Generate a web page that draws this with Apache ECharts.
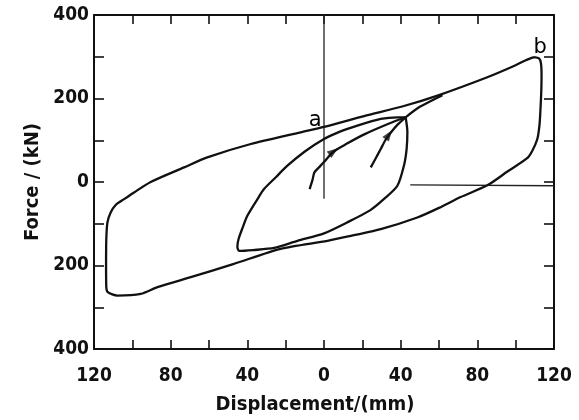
<!DOCTYPE html>
<html>
<head>
<meta charset="utf-8">
<script src="https://cdn.jsdelivr.net/npm/echarts@6/dist/echarts.min.js"></script>
<style>
html,body{margin:0;padding:0;background:#fff;}
#chart{width:579px;height:420px;}
</style>
</head>
<body>
<div id="chart"></div>
<script>
// ---- data ----
const xTicks = [-120, -80, -40, 0, 40, 80, 120];
const xTickLabels = ['120', '80', '40', '0', '40', '80', '120'];
const yTicks = [-400, -200, 0, 200, 400];
const yTickLabels = ['400', '200', '0', '200', '400'];

// large hysteresis loop (a -> b -> back)
const outerLoop = [
  [109.6, 299], [112.2, 296], [113.2, 284], [113.5, 255], [113.4, 222], [112.9, 170],
  [112.4, 135], [111.3, 103], [108.7, 75], [106, 57], [95.7, 25], [85.2, -8],
  [71.3, -36], [60, -62], [48.7, -85], [29.6, -113], [15, -128], [1.8, -141],
  [-22.6, -160], [-47, -196], [-69.5, -228], [-86.9, -252], [-95.6, -268], [-107.8, -272],
  [-112.8, -264], [-113.6, -250], [-113.7, -200], [-113.6, -140], [-113, -97],
  [-111.3, -73], [-108.7, -55], [-104.3, -41], [-99.1, -25], [-90.4, 0], [-73, 35],
  [-60.9, 59], [-38.2, 91], [-12.2, 119], [0, 132], [20.9, 158], [41.7, 182],
  [59.2, 207], [85.2, 251], [99.1, 278], [105, 291], [109.6, 299]
];

// small loop (lens shaped)
const innerLoop = [
  [42.6, 155], [43.5, 120], [43.1, 79], [41.7, 39], [38.3, -9], [31.5, -40],
  [24, -68], [12, -97], [0, -123], [-13.9, -141], [-26, -158], [-37, -163],
  [-44.3, -165], [-45.2, -155], [-44.6, -137], [-42.5, -110], [-40, -81],
  [-34.7, -41], [-31.3, -17], [-25, 12], [-19.1, 39], [-10, 73], [0, 103],
  [8, 120], [17.4, 135], [29.6, 151], [38.3, 155], [42.6, 155]
];

// branch from small-loop tip joining the large loop
const branch = [[42.6, 155], [50, 180], [61.8, 208]];

// initial loading curves (with arrows)
const virgin1 = [
  [-7.5, -17], [-6, 5], [-5, 23], [-2, 38], [0, 48], [5, 73], [12, 92],
  [21, 114], [34, 140], [42.6, 155]
];
const virgin2 = [
  [24.4, 35], [27, 57], [29.6, 79], [32, 100], [34.8, 118], [38.5, 138], [42.6, 155]
];
const arrowPoints = [[5, 73], [33.8, 113]];

// reference lines of the original figure
const refVertical = [[0, 400], [0, -40]];
const refHorizontal = [[45, -7], [120, -9]];

// point labels
const pointLabels = [[-4.6, 148, 'a'], [112.8, 322, 'b']];

// ---- chart ----
const FONT = 'DejaVu Sans Condensed';
const black = '#111';
const arrowRot = [-55, -35];

function xFmt(v) { const i = xTicks.indexOf(v); return i >= 0 ? xTickLabels[i] : ''; }
function yFmt(v) { const i = yTicks.indexOf(v); return i >= 0 ? yTickLabels[i] : ''; }

const txt = { color: black, fontFamily: FONT, fontWeight: 'bold' };

function xAxisDef(pos, main) {
  return {
    type: 'value', position: pos, min: -120, max: 120, interval: 40,
    axisLine: { onZero: false, lineStyle: { color: black, width: 2 } },
    axisTick: { show: true, inside: true, length: 9, lineStyle: { color: black, width: 1.6 } },
    minorTick: { show: true, splitNumber: 2, length: 9, lineStyle: { color: black, width: 1.6 } },
    splitLine: { show: false }, minorSplitLine: { show: false },
    axisLabel: Object.assign({ show: main, formatter: xFmt, margin: 18, fontSize: 19 }, txt),
    name: main ? 'Displacement/(mm)' : '',
    nameLocation: 'middle', nameGap: 46,
    nameTextStyle: Object.assign({ fontSize: 20, padding: [0, 18, 0, 0] }, txt)
  };
}
function yAxisDef(pos, main) {
  return {
    type: 'value', position: pos, min: -400, max: 400, interval: 200,
    axisLine: { onZero: false, lineStyle: { color: black, width: 2 } },
    axisTick: { show: true, inside: true, length: 10, lineStyle: { color: black, width: 1.6 } },
    minorTick: { show: true, splitNumber: 2, length: 10, lineStyle: { color: black, width: 1.6 } },
    splitLine: { show: false }, minorSplitLine: { show: false },
    axisLabel: Object.assign({ show: main, formatter: yFmt, margin: 5, fontSize: 19 }, txt),
    name: main ? 'Force / (kN)' : '',
    nameLocation: 'middle', nameGap: 49,
    nameTextStyle: Object.assign({ fontSize: 20 }, txt)
  };
}

function curve(data, width) {
  return {
    type: 'line', data: data, symbol: 'none', smooth: 0.25,
    lineStyle: { color: black, width: width || 2.3 }, z: 3, silent: true
  };
}

const chart = echarts.init(document.getElementById('chart'), null, { renderer: 'canvas' });
chart.setOption({
  animation: false,
  backgroundColor: '#fff',
  grid: { left: 94, right: 25, top: 15, bottom: 71, containLabel: false },
  xAxis: [xAxisDef('bottom', true), xAxisDef('top', false)],
  yAxis: [yAxisDef('left', true), yAxisDef('right', false)],
  series: [
    { type: 'line', data: refVertical, symbol: 'none', lineStyle: { color: '#222', width: 1.3 }, z: 2 },
    { type: 'line', data: refHorizontal, symbol: 'none', lineStyle: { color: '#222', width: 1.3 }, z: 2 },
    curve(outerLoop),
    curve(innerLoop),
    curve(branch),
    curve(virgin1),
    curve(virgin2),
    {
      type: 'scatter', symbol: 'triangle', symbolSize: [8, 11], z: 4,
      itemStyle: { color: black },
      data: arrowPoints.map((p, i) => ({ value: p, symbolRotate: arrowRot[i] }))
    },
    {
      type: 'scatter', symbolSize: 0, z: 5, silent: true,
      itemStyle: { color: black, opacity: 1 },
      label: {
        show: true, position: 'inside', color: '#000', opacity: 1,
        fontFamily: 'DejaVu Sans', fontSize: 21, fontWeight: 'normal',
        formatter: p => p.data[2]
      },
      data: pointLabels
    }
  ]
});
</script>
</body>
</html>
